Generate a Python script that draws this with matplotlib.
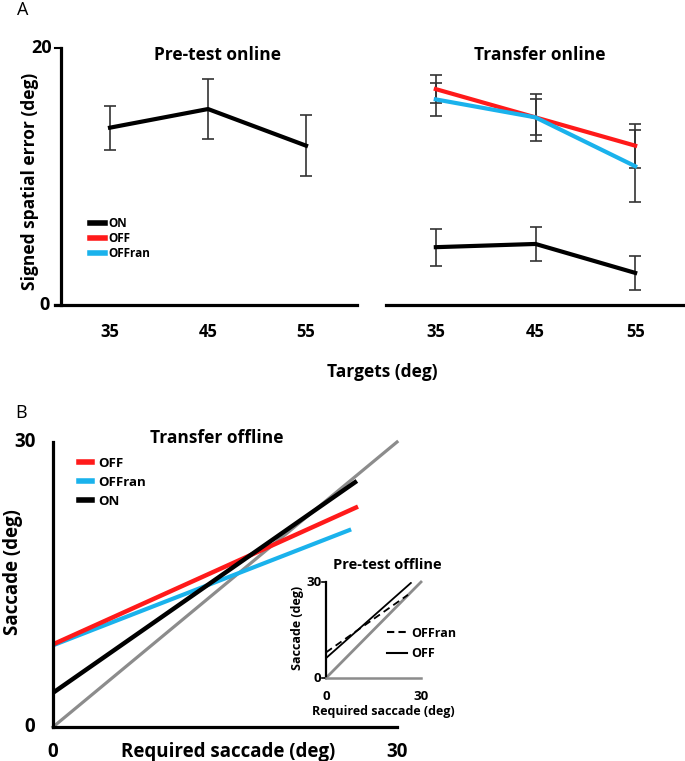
import matplotlib
matplotlib.use("Agg")
import matplotlib.pyplot as plt
from matplotlib.lines import Line2D

plt.rcParams['font.family'] = ['Open Sans', 'DejaVu Sans']
plt.rcParams['font.weight'] = 'bold'

# ---------------- data ----------------
targets = [35, 45, 55]
pre_on = [13.8, 15.25, 12.4]
pre_on_err = [1.7, 2.3, 2.4]
tr_on = [4.5, 4.75, 2.5]
tr_on_err = [1.45, 1.35, 1.35]
tr_off = [16.8, 14.6, 12.4]
tr_off_err = [1.1, 1.8, 1.7]
tr_offran = [16.0, 14.6, 10.8]
tr_offran_err = [1.3, 1.4, 2.8]

# Panel B: regression lines (required saccade -> saccade), endpoints
b_off_x = [0, 26.6]
b_off_y = [8.7, 23.2]
b_offran_x = [0, 26.0]
b_offran_y = [8.6, 20.8]
b_on_x = [0, 26.5]
b_on_y = [3.6, 25.9]
b_unity = [0, 30]

inset_off_x = [0, 26.8]
inset_off_y = [6.2, 29.7]
inset_offran_x = [0, 25.9]
inset_offran_y = [8.0, 26.0]

W, H = 685, 761
fig = plt.figure(figsize=(W / 100, H / 100), dpi=100)


def rect(x0, y0, x1, y1):
    return [x0 / W, 1 - y1 / H, (x1 - x0) / W, (y1 - y0) / H]


def ftext(x, y, s, **kw):
    kw.setdefault('ha', 'center')
    kw.setdefault('va', 'center')
    kw.setdefault('fontweight', 'bold')
    return fig.text(x / W, 1 - y / H, s, **kw)


RED = '#ff1a1a'
CYAN = '#1ab2ec'
GRAY = '#8c8c8c'

# ---------------- Panel A left ----------------
axL = fig.add_axes(rect(55, 48, 357, 305))
axL.set_xlim(35 - 55 / 9.8, 60.2)
axL.set_ylim(0, 20)
axL.errorbar(targets, pre_on, yerr=pre_on_err, color='black', lw=3,
             ecolor='#333333', elinewidth=1.2, capsize=4, capthick=1.2, clip_on=False)
for s in ['top', 'right']:
    axL.spines[s].set_visible(False)
axL.spines['left'].set_position(('data', 30))
axL.spines['left'].set_linewidth(2.3)
axL.spines['bottom'].set_linewidth(2.3)
axL.set_yticks([])
axL.set_xticks(targets)
axL.set_xticklabels([str(t) for t in targets], fontsize=12, fontweight='bold')
axL.tick_params(axis='x', length=0, pad=13)
axL.plot([29.4, 30], [20, 20], color='black', lw=1.5, clip_on=False)
axL.plot([29.4, 30], [0, 0], color='black', lw=1.5, clip_on=False)
ftext(42, 48, '20', fontsize=13)
ftext(45, 305, '0', fontsize=13)
ftext(217, 55, 'Pre-test online', fontsize=12.5)
ftext(30, 181, 'Signed spatial error (deg)', fontsize=12.5, rotation=90)
handles = [Line2D([], [], color='black', lw=4),
           Line2D([], [], color=RED, lw=4),
           Line2D([], [], color=CYAN, lw=4)]
axL.legend(handles, ['ON', 'OFF', 'OFFran'], loc='upper left', bbox_to_anchor=(0.08, 0.385),
           frameon=False, handlelength=1.25, handletextpad=0.35, labelspacing=0.2,
           prop={'weight': 'bold', 'size': 8.5})

# ---------------- Panel A right ----------------
axR = fig.add_axes(rect(386, 48, 685, 305))
axR.set_xlim(30, 60)
axR.set_ylim(0, 20)
axR.errorbar(targets, tr_off, yerr=tr_off_err, color=RED, lw=3,
             ecolor='#333333', elinewidth=1.2, capsize=4, capthick=1.2)
axR.errorbar(targets, tr_offran, yerr=tr_offran_err, color=CYAN, lw=3,
             ecolor='#333333', elinewidth=1.2, capsize=4, capthick=1.2)
axR.errorbar(targets, tr_on, yerr=tr_on_err, color='black', lw=3,
             ecolor='#333333', elinewidth=1.2, capsize=4, capthick=1.2)
for s in ['top', 'right', 'left']:
    axR.spines[s].set_visible(False)
axR.spines['bottom'].set_linewidth(2.3)
axR.set_yticks([])
axR.set_xticks(targets)
axR.set_xticklabels([str(t) for t in targets], fontsize=12, fontweight='bold')
axR.tick_params(axis='x', length=0, pad=13)
ftext(540, 55, 'Transfer online', fontsize=12.5)

ftext(382, 372, 'Targets (deg)', fontsize=12.5)
ftext(17, 10, 'A', ha='left', fontsize=13, fontweight='normal')

# ---------------- Panel B main ----------------
axB = fig.add_axes(rect(53, 442, 397, 727))
axB.set_xlim(0, 30)
axB.set_ylim(0, 30)
axB.plot(b_unity, b_unity, color=GRAY, lw=2.3, clip_on=False)
axB.plot(b_offran_x, b_offran_y, color=CYAN, lw=3, solid_capstyle='butt')
axB.plot(b_off_x, b_off_y, color=RED, lw=3.2, solid_capstyle='butt')
axB.plot(b_on_x, b_on_y, color='black', lw=3.2, solid_capstyle='butt')
for s in ['top', 'right']:
    axB.spines[s].set_visible(False)
axB.spines['left'].set_linewidth(2.3)
axB.spines['bottom'].set_linewidth(2.3)
axB.set_xticks([])
axB.set_yticks([])
ftext(53, 752, '0', fontsize=13.5)
ftext(397, 752, '30', fontsize=13.5)
ftext(25, 442, '30', fontsize=13.5)
ftext(30, 727, '0', fontsize=13.5)
ftext(228, 752, 'Required saccade (deg)', fontsize=13.5)
ftext(13, 572, 'Saccade (deg)', rotation=90, fontsize=13.5)
ftext(217, 438, 'Transfer offline', fontsize=12.5)
ftext(15, 413, 'B', ha='left', fontsize=13, fontweight='normal')
hB = [Line2D([], [], color=RED, lw=4),
      Line2D([], [], color=CYAN, lw=4),
      Line2D([], [], color='black', lw=4)]
axB.legend(hB, ['OFF', 'OFFran', 'ON'], loc='upper left', bbox_to_anchor=(0.04, 0.99),
           frameon=False, handlelength=1.0, handletextpad=0.45, labelspacing=0.45,
           prop={'weight': 'bold', 'size': 9.5})

# ---------------- Inset ----------------
axI = fig.add_axes(rect(326, 582, 421, 678))
axI.set_xlim(0, 30)
axI.set_ylim(0, 30)
axI.plot(b_unity, b_unity, color=GRAY, lw=2, clip_on=False)
axI.plot(inset_offran_x, inset_offran_y, color='black', lw=1.3, ls=(0, (4, 2.5)))
axI.plot(inset_off_x, inset_off_y, color='black', lw=1.3)
for s in ['top', 'right']:
    axI.spines[s].set_visible(False)
axI.spines['left'].set_linewidth(1.6)
axI.spines['bottom'].set_linewidth(1.8)
axI.spines['bottom'].set_color(GRAY)
axI.set_xticks([])
axI.set_yticks([])
axI.plot([-1.2, 0], [30, 30], color='black', lw=1.2, clip_on=False)
axI.plot([-1.2, 0], [0, 0], color='black', lw=1.2, clip_on=False)
ftext(326, 697, '0', fontsize=9.5)
ftext(421, 697, '30', fontsize=9.5)
ftext(314, 582, '30', fontsize=9.5)
ftext(317, 678, '0', fontsize=9.5)
ftext(383, 712, 'Required saccade (deg)', fontsize=9)
ftext(297, 628, 'Saccade (deg)', rotation=90, fontsize=9)
ftext(387, 565, 'Pre-test offline', fontsize=10.5)
hI = [Line2D([], [], color='black', lw=1.5, ls=(0, (3.5, 2))),
      Line2D([], [], color='black', lw=1.5)]
axI.legend(hI, ['OFFran', 'OFF'], loc='upper left', bbox_to_anchor=(0.52, 0.65),
           frameon=False, handlelength=1.6, handletextpad=0.35, labelspacing=0.6,
           prop={'weight': 'bold', 'size': 9})

fig.savefig('out.png', dpi=100)
